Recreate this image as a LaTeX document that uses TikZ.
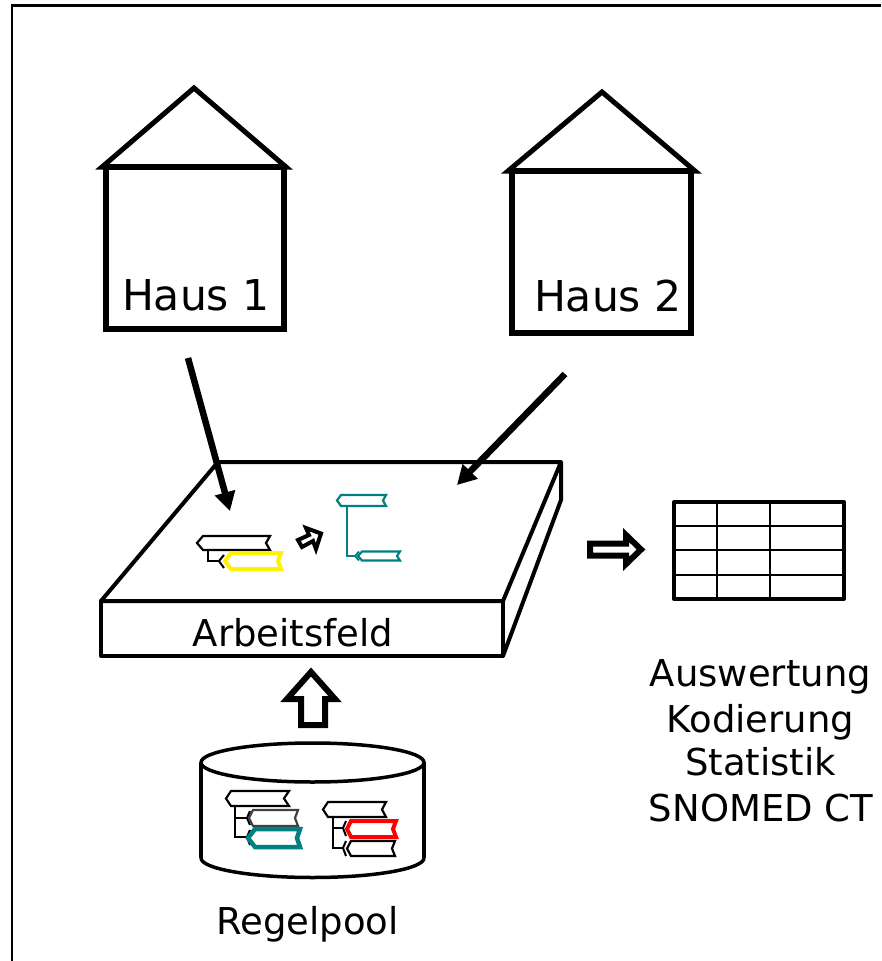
\documentclass[tikz,border=0pt]{standalone}
\usepackage{fontspec}
\setmainfont{DejaVu Sans}
\usetikzlibrary{arrows.meta}
\definecolor{tealrule}{HTML}{008080}
\definecolor{grayrule}{HTML}{404040}
\newcommand{\ruleflag}[7]{\draw[#1] (#2,{(#6+#7)/2}) -- (#3,#6) -- (#5,#6) -- (#4,{(#6+#7)/2}) -- (#5,#7) -- (#3,#7) -- cycle;}
\tikzset{
  frameline/.style={line width=2.5pt,black},
  housewall/.style={line width=6pt,black},
  houseroof/.style={line width=5pt,black,line join=miter},
  slabline/.style={line width=4pt,black,line join=round},
  bigarrow/.style={line width=6.5pt,black,-{Triangle[length=19pt,width=20pt,sep=0pt]}},
  blockarrow/.style={line width=6pt,black,fill=white,line join=miter,miter limit=10},
  tableouter/.style={line width=4pt,black,line join=round},
  tablegrid/.style={line width=2.2pt,black},
  cyl/.style={line width=3.5pt,black},
  link/.style={line width=2pt,black},
  tealink/.style={line width=1.8pt,tealrule},
  flagblack/.style={line width=2.2pt,black,fill=white},
  flaggray/.style={line width=2.2pt,grayrule,fill=white},
  flagteal/.style={line width=2.2pt,tealrule,fill=white},
  flagtealthick/.style={line width=4.5pt,tealrule,fill=white},
  flagyellow/.style={line width=4pt,yellow,fill=white},
  flagred/.style={line width=4pt,red,fill=white},
  label/.style={inner sep=0pt,outer sep=0pt,font=\fontsize{37}{40}\selectfont},
  houselabel/.style={inner sep=0pt,outer sep=0pt,font=\fontsize{42.5}{44}\selectfont},
}
\begin{document}
\begin{tikzpicture}[x=1pt,y=-1pt]
\useasboundingbox (0,0) rectangle (881,961);
\fill[white] (0,0) rectangle (881,961);
% frame
\draw[frameline] (12,961) -- (12,5.5) -- (881,5.5);
% houses
\draw[housewall] (106,167) rectangle (284,329);
\draw[houseroof] (102,167) -- (194,88) -- (286,167) -- cycle;
\draw[housewall] (512,171) rectangle (691,333);
\draw[houseroof] (508,171) -- (602,92) -- (695,171) -- cycle;
\node[houselabel,anchor=base west] (haus1) at (122,310) {Haus 1};
\node[houselabel,anchor=base west] (haus2) at (534,311) {Haus 2};
% slab
\draw[slabline] (101,601) -- (218,462) -- (561,462) -- (503,601) -- cycle;
\draw[slabline] (101,601) rectangle (503,656);
\draw[slabline] (561,462) -- (561,500) -- (503,656);
\node[label,anchor=base] (arbeit) at (293,646) {Arbeitsfeld};
% arrows from houses
\coordinate (a1s) at (188,358);
\coordinate (a1e) at (230,511);
\coordinate (a2s) at (565,374);
\coordinate (a2e) at (457,485);
\draw[bigarrow] (a1s) -- (a1e);
\draw[bigarrow] (a2s) -- (a2e);
% small rule in work field
\draw[link] (208,550) -- (208,561) -- (219,561);
\draw[link] (224,555) -- (219,561) -- (224,568);
\ruleflag{flagblack}{197}{203}{266}{270}{536}{550}
\ruleflag{flagyellow}{225}{231}{278}{281}{553}{569}
% small arrow
\draw[blockarrow,line width=4pt] (321,533.5) -- (306,528) -- (309,535) -- (298,540) -- (302,547) -- (313,541) -- (316,549) -- cycle;
% teal rule
\draw[tealink] (347,506) -- (347,556) -- (355,556);
\draw[tealink] (359,551.5) -- (355,556) -- (359,560.5);
\ruleflag{flagteal}{337}{341}{383}{386}{495}{506}
\ruleflag{flagteal}{358}{362}{397}{400}{551.5}{560.5}
% block arrows
\draw[blockarrow] (590,543.5) -- (626,543.5) -- (626,535) -- (641,549.5) -- (626,564) -- (626,555.5) -- (590,555.5) -- cycle;
\draw[blockarrow] (301,725) -- (301,699) -- (287,699) -- (311,672) -- (335,699) -- (325,699) -- (325,725) -- cycle;
% table
\draw[tablegrid] (717,502) -- (717,599) (770,502) -- (770,599)
  (674,526) -- (844,526) (674,550) -- (844,550) (674,575) -- (844,575);
\draw[tableouter] (674,502) rectangle (844,599);
% text right
\node[label,anchor=base] (t1) at (760.5,686) {Auswertung};
\node[label,anchor=base] (t2) at (760.5,732) {Kodierung};
\node[label,anchor=base] (t3) at (760.5,775) {Statistik};
\node[label,anchor=base] (t4) at (761,821) {SNOMED CT};
% cylinder
\draw[cyl] (312.5,762.5) ellipse (111.5 and 19.5);
\draw[cyl] (201,762.5) -- (201,858);
\draw[cyl] (424,762.5) -- (424,858);
\draw[cyl] (201,858) arc[start angle=180,end angle=0,x radius=111.5,y radius=19.5];
\node[label,anchor=base] (pool) at (307.5,934) {Regelpool};
% rules in pool, left
\draw[link] (235,806) -- (235,837) -- (247,837) (235,818) -- (247,818);
\draw[link] (250,811) -- (247,818) -- (250,825) (250,830) -- (247,837) -- (250,845);
\ruleflag{flagblack}{226}{231}{284}{289}{791}{806}
\ruleflag{flaggray}{249}{253}{295}{298}{810}{826}
\ruleflag{flagtealthick}{248}{255}{297}{300}{829}{847}
% rules in pool, right
\draw[link] (333,817) -- (333,848) -- (343,848) (333,828) -- (343,828);
\draw[link] (346,821) -- (343,828) -- (346,836) (346,841) -- (343,848) -- (346,856);
\ruleflag{flagblack}{323}{328}{382}{386}{802}{817}
\ruleflag{flagred}{347}{351}{393}{396}{821}{837}
\ruleflag{flagblack}{347}{351}{392}{395}{841}{856}
\end{tikzpicture}
\end{document}
